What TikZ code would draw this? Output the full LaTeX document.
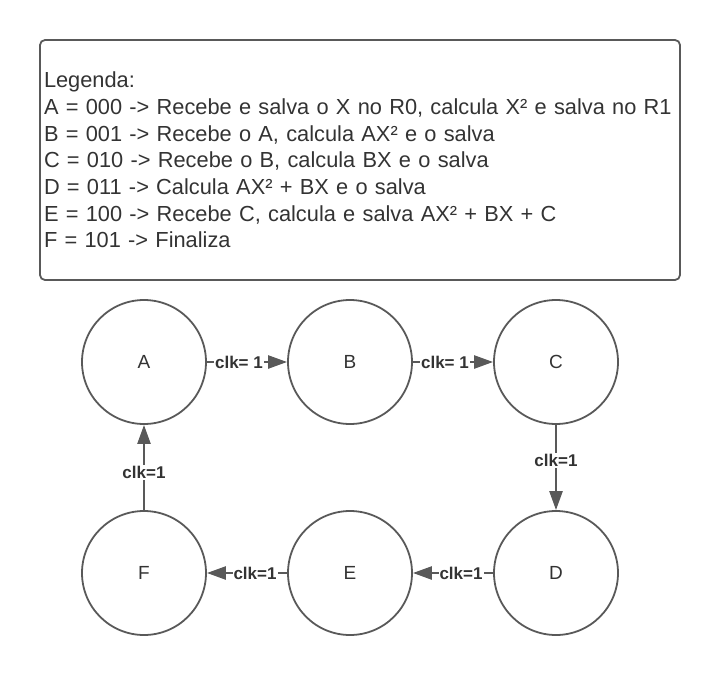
\documentclass[tikz,border=0pt]{standalone}
\usepackage{fontspec}
\setmainfont{Liberation Sans}
\usetikzlibrary{arrows.meta}
\definecolor{linha}{HTML}{595959}
\definecolor{texto}{HTML}{333333}

\begin{document}
\begin{tikzpicture}[x=1pt,y=-1pt,
	estado/.style={circle, draw=linha, line width=1.8pt, minimum size=124pt, inner sep=0pt, text=texto, font=\fontsize{19}{21}\selectfont},
	transicao/.style={draw=linha, line width=2.4pt, -{Triangle[length=19pt,width=13pt]}},
	rotulo/.style={fill=white, inner sep=1pt, text=texto, font=\bfseries\fontsize{17}{19}\selectfont}]
		%%%%% START %%%%%
		\useasboundingbox (0,0) rectangle (720,680);
		
		\node[draw=linha, line width=1.8pt, rounded corners=5pt, minimum height=240pt, text width=632pt, inner xsep=4pt, align=left, text=texto, font=\fontsize{21.8}{26.7}\selectfont] (legenda) at (360,160)
		{Legenda:\\
		A = 000 -> Recebe e salva o X no R0, calcula X² e salva no R1\\
		B = 001 -> Recebe o A, calcula AX² e o salva\\
		C = 010 -> Recebe o B, calcula BX e o salva\\
		D = 011 -> Calcula AX² + BX e o salva\\
		E = 100 -> Recebe C, calcula e salva AX² + BX + C\\
		F = 101 -> Finaliza};
		
		\node[estado] (A) at (144,362) {A};
		\node[estado] (B) at (350,362) {B};
		\node[estado] (C) at (556,362) {C};
		\node[estado] (D) at (556,573) {D};
		\node[estado] (E) at (350,573) {E};
		\node[estado] (F) at (144,573) {F};
		
		\draw[transicao] (A) -- node[rotulo, pos=0.4] {clk= 1} (B);
		\draw[transicao] (B) -- node[rotulo, pos=0.4] {clk= 1} (C);
		\draw[transicao] (C) -- node[rotulo, pos=0.42] {clk=1} (D);
		\draw[transicao] (D) -- node[rotulo, pos=0.4] {clk=1} (E);
		\draw[transicao] (E) -- node[rotulo, pos=0.4] {clk=1} (F);
		\draw[transicao] (F) -- node[rotulo, pos=0.44] {clk=1} (A);
		%%%%% END %%%%%
\end{tikzpicture}
\end{document}
